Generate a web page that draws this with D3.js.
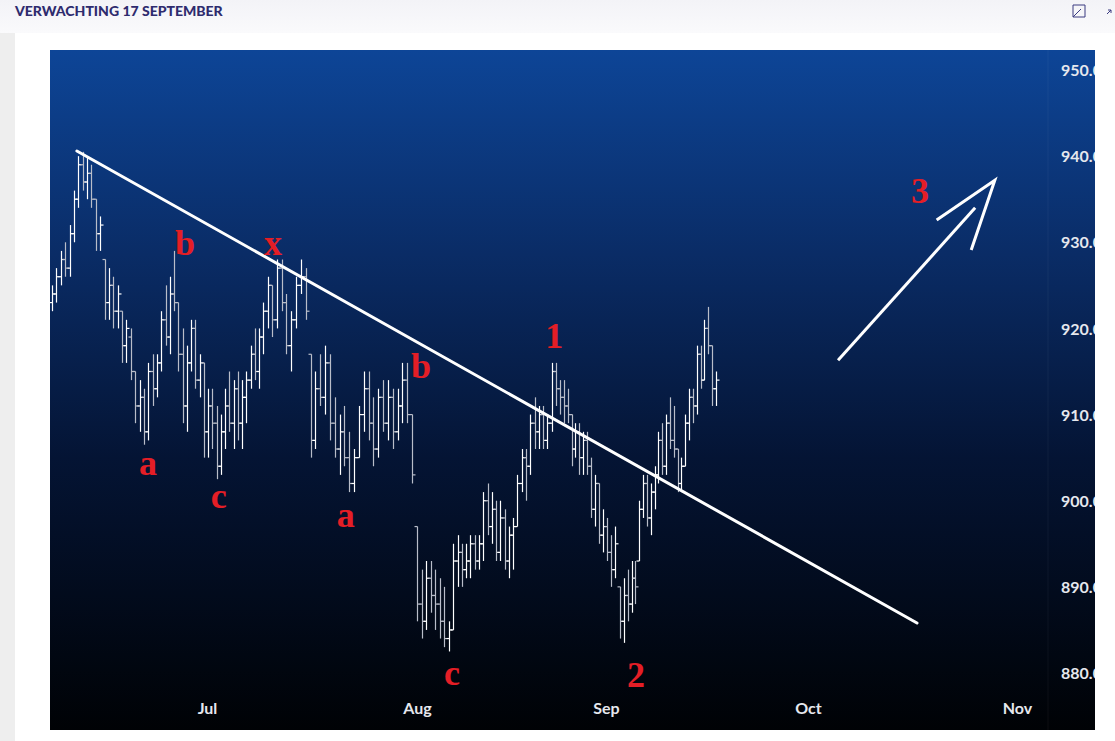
<!DOCTYPE html>
<html><head><meta charset="utf-8">
<script src="https://cdn.jsdelivr.net/npm/d3@7"></script>
<style>body{margin:0;background:#fff;overflow:hidden}svg{display:block}</style>
</head><body>
<script>
const title = "VERWACHTING 17 SEPTEMBER";
const yTicks = [880, 890, 900, 910, 920, 930, 940, 950];
const xTickDates = ["2024-07-01","2024-08-01","2024-09-01","2024-10-01","2024-11-01"];
const xTickLabels = ["Jul","Aug","Sep","Oct","Nov"];
// bar index -> timestamp anchors (trading-time axis)
const anchorIdx = [0, 24, 51, 81, 88, 113, 130, 154];
const anchorDates = ["2024-06-08T03:00","2024-06-23T15:00","2024-07-10T14:00","2024-08-01T00:00","2024-08-06T06:00","2024-08-23T19:00","2024-09-03T16:00","2024-09-17T08:00"];
// [open, high, low, close]
const ohlc = [
[923,925,922,924],[924,927,923,926],
[926,929,925,928],[928,930,926,927],[927,932,926,931],
[931,936,930,935],[935,940,934,939],[939,940.5,936,937],
[937,940,935,938],[938,939,934,935],
[935,935,929,931],[931,933,929,932],
[928,928,921,923],[923,927,921,925],
[925,926,920,922],[922,925,920,924],
[922,922,916,918],[918,921,916,920],[919,920,914,915],
[915,915,909,911],[911,914,908,912],
[912,913,906.5,908],[908,916,907,915],[915,917,911,913],
[913,917,912,916],
[916,922,915,921],[921,925,918,919],[919,926,917,924],
[924,929,922,923],
[923,923,915,917],
[917,920,909,911],[911,918,908,916],[916,921,915,920],
[920,921,913,914],[914,917,912,916],
[916,916,905,908],[908,913,905,911],
[911,913,906,909],[909,911,902.5,904],[904,910,903,908],
[908,913,906,911],[911,915,908,909],[909,914,906,913],
[913,915,907,909],[909,914,906,912],[912,915,909,914],
[914,918,913,917],[917,920,914,915],[915,920,913,919],
[919,923,917,922],[922,926,920,925],[925,925,919,921],
[921,928,920,927],[927,928,922,923],
[923,924,917,918],[918,922,915,921],[921,926,920,925],
[925,928,924,926],[926,927,921,922],
[917,917,905,907],[907,915,906,913],[913,917,911,912],
[912,918,910,916],[916,917,907,909],
[909,912,905,906],[906,910,903,908],[908,911,904,905],
[905,908,901,902],[902,906,901,905],
[905,911,905,910],[910,915,908,913],[913,915,907,909],
[909,912,904,906],[906,913,905,912],[912,914,908,909],
[909,914,907,912],[912,913,906,908],[908,913,907,911],
[911,916,909,914],[914,916,909,910],
[910,910,902,903],
[897,897,886,888],
[888,892,884,886],[886,893,885,891],[891,893,887,889],
[889,892,885,888],[888,891,884,886],[886,890,883,884],[884,886,882.5,885],
[885,895,885,893],[893,896,890,894],
[894,895,890,892],[892,895,891,893],[893,896,891,895],
[895,896,892,893],[893,896,892,895],
[895,901,893,900],[900,902,896,897],[897,901,895,899],
[899,900,893,894],[894,900,893,898],
[898,899,892,893],[893,897,891,896],[896,898,892,897],
[897,903,897,902],[902,906,901,905],[905,906,900,904],
[904,910,903,909],[909,912,906,908],
[908,911,906,910],[910,911,906,907],[907,910,906,909],
[909,916,908,915],[915,916,911,913],
[913,914,910,912],[912,914,909,911],[911,913,909,910],
[910,910,904,906],[906,909,905,908],
[908,909,903,905],[905,908,903,907],[907,908,903,904],
[904,905,898,899],[899,903,897,902],
[902,902,895,896],[896,899,894,897],[897,898,893,894],
[894,896,890,892],[892,897,891,895],
[890,890,884,886],[886,891,883.5,889],
[889,892,886,888],[888,893,887,891],[891,893,888,890],
[893,900,893,899],[899,903,898,902],
[902,903,897,898],[898,902,896,901],[901,904,899,903],
[903,908,902,907],[907,909,903,904],
[904,910,903,909],[909,912,906,907],[907,911,905,906],
[906,906,901,902],[902,905,901,904],
[904,910,904,909],[909,913,907,912],[912,913,909,911],
[911,918,910,917],[917,918,913,914],
[914,921,914,920],[920,922.5,917,918],
[918,918,911,913],[913,915,911,914]
];
const trendLine = [["2024-06-11T19:00",940.6],["2024-10-17T04:00",885.8]];
const arrowShaft = [["2024-10-05T11:00",916.3],["2024-10-25T19:00",934.0]];
const arrowHead = [["2024-10-20T02:00",932.6],["2024-10-28T17:00",937.2],["2024-10-25T05:00",929.1]];
const waveLabels = [
 ["a","2024-06-22T07:00",903.0],["b","2024-06-27T18:00",928.5],["c","2024-07-02T18:00",899.2],
 ["x","2024-07-10T18:00",928.5],["a","2024-07-21T12:00",896.9],["b","2024-08-01T16:00",914.2],
 ["c","2024-08-06T18:00",878.6],["1","2024-08-23T12:00",917.7],["2","2024-09-05T11:00",878.4],
 ["3","2024-10-17T15:00",934.6]
];

const W=1115,H=741;
const svg=d3.select("body").append("svg").attr("width",W).attr("height",H);
const defs=svg.append("defs");
const g=defs.append("linearGradient").attr("id","bg").attr("x1",0).attr("y1",0).attr("x2",0).attr("y2",1);
[[0,"#0d4597"],[0.3,"#0a2c66"],[0.6,"#041434"],[1,"#000205"]].forEach(s=>g.append("stop").attr("offset",s[0]).attr("stop-color",s[1]));
const hg=defs.append("linearGradient").attr("id","hd").attr("x1",0).attr("y1",0).attr("x2",0).attr("y2",1);
hg.append("stop").attr("offset",0).attr("stop-color","#f3f3f7");hg.append("stop").attr("offset",1).attr("stop-color","#fafafc");
defs.append("clipPath").attr("id","pc").append("rect").attr("x",50).attr("y",50).attr("width",1045).attr("height",680);

svg.append("rect").attr("width",W).attr("height",33).attr("fill","url(#hd)");
svg.append("rect").attr("x",0).attr("y",33).attr("width",15).attr("height",H-33).attr("fill","#eeeeee");
svg.append("text").attr("x",15).attr("y",16).text(title).attr("font-family","Lato, 'Open Sans', sans-serif")
 .attr("font-weight",900).attr("font-size",14).attr("fill","#2e2b6e");
svg.append("path").attr("d","M1073,5h12v12M1073,5v12h12M1073,17l8,-8").attr("fill","none").attr("stroke","#3a3a80").attr("stroke-width",1);
svg.append("path").attr("d","M1107,14l4,-4M1108,10h3v3").attr("fill","none").attr("stroke","#3a3a80").attr("stroke-width",1);

svg.append("rect").attr("x",50).attr("y",50).attr("width",1045).attr("height",680).attr("fill","url(#bg)");
svg.append("line").attr("x1",1048).attr("x2",1048).attr("y1",50).attr("y2",730).attr("stroke","#ffffff").attr("stroke-opacity",0.05);

const x=d3.scaleTime().domain(xTickDates.map(d=>new Date(d+"T00:00"))).range([207,417,606,808,1017]);
const y=d3.scaleLinear().domain([880,950]).range([673,70]);
const idxToTime=d3.scaleLinear().domain(anchorIdx).range(anchorDates.map(d=>new Date(d).getTime()));
const barDate=i=>new Date(idxToTime(i));

const plot=svg.append("g").attr("clip-path","url(#pc)");
const yAxis=d3.axisRight(y).tickValues(yTicks).tickFormat(d3.format(".2f")).tickSize(0);
const ya=plot.append("g").attr("transform","translate(1058,0)").call(yAxis);
const xAxis=d3.axisBottom(x).tickValues(xTickDates.map(d=>new Date(d+"T00:00"))).tickFormat((d,i)=>xTickLabels[i]).tickSize(0);
const xa=plot.append("g").attr("transform","translate(0,700)").call(xAxis);
[ya,xa].forEach(a=>{a.select(".domain").remove();a.selectAll("text").attr("fill","#e6e8ee").attr("font-family","Lato, sans-serif").attr("font-weight",700).attr("font-size",16);});
ya.selectAll("text").attr("dy","0.35em");

const bars=plot.append("g");
ohlc.forEach((d,i)=>{
 const cx=Math.round(x(barDate(i)))+0.5;
 const col=d[3]>=d[0]?"#ffffff":"#b9bdc9";
 const gg=bars.append("g").attr("stroke",col).attr("stroke-width",1.2);
 gg.append("line").attr("x1",cx).attr("x2",cx).attr("y1",y(d[1])).attr("y2",y(d[2]));
 gg.append("line").attr("x1",cx-3).attr("x2",cx).attr("y1",y(d[0])).attr("y2",y(d[0]));
 gg.append("line").attr("x1",cx).attr("x2",cx+3).attr("y1",y(d[3])).attr("y2",y(d[3]));
});
const pt=d=>[x(new Date(d[0])),y(d[1])];
const ln=d3.line().x(d=>pt(d)[0]).y(d=>pt(d)[1]);
plot.append("path").attr("d",ln(trendLine)).attr("stroke","#fff").attr("stroke-width",3).attr("fill","none").attr("stroke-linecap","round");
plot.append("path").attr("d",ln(arrowShaft)).attr("stroke","#fff").attr("stroke-width",3).attr("fill","none");
plot.append("path").attr("d",ln(arrowHead)).attr("stroke","#fff").attr("stroke-width",3).attr("fill","none");
plot.selectAll(".wl").data(waveLabels).join("text").attr("x",d=>x(new Date(d[1]))).attr("y",d=>y(d[2]))
 .attr("text-anchor","middle").text(d=>d[0]).attr("font-family","'Liberation Serif', serif").attr("font-weight",700)
 .attr("font-size",36).attr("fill","#e41e26");
</script></body></html>
